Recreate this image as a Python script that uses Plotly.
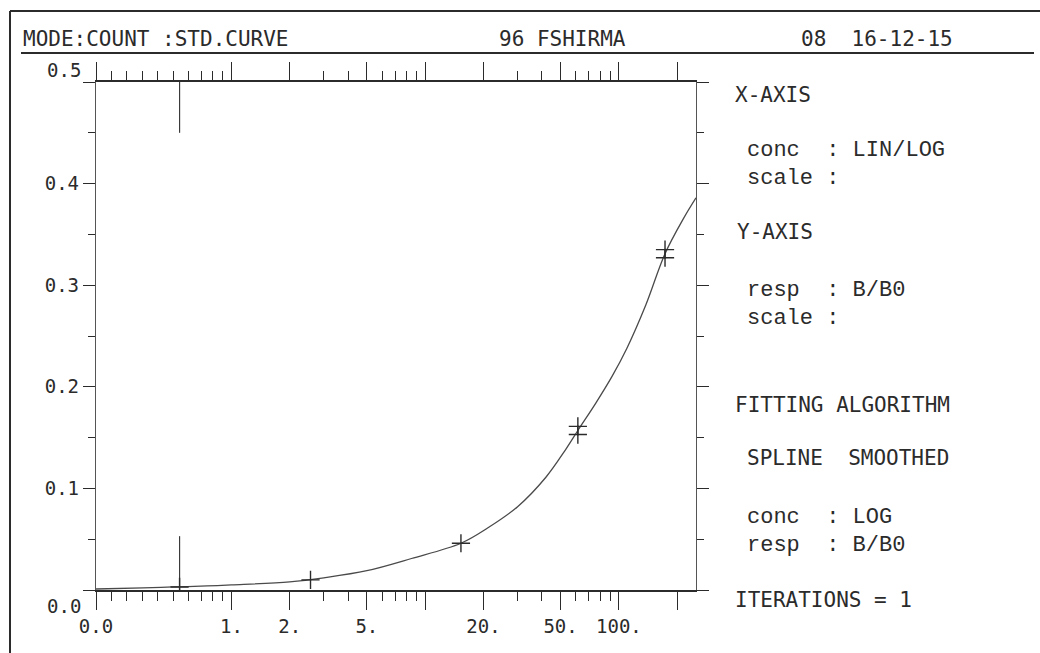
import math
import plotly.graph_objects as go

W, H = 1040, 653
L, R, T, B = 96, 344, 82, 63
PW = W - L - R
PH = H - T - B


def px(xp):
    return (xp - L) / PW


def py(yp):
    return (H - B - yp) / PH


# ---------------- data ----------------
std_conc = [0.54, 2.56, 15.3, 61.4, 61.4, 173, 173]
std_resp = [0.003, 0.010, 0.046, 0.153, 0.161, 0.327, 0.335]

curve_conc = [0.2, 0.35, 0.5, 0.75, 1, 2, 3, 5, 8.5, 15.3, 21, 30, 42, 53, 61.4,
              76, 92, 110, 138, 173, 216, 250]
curve_resp = [0.001, 0.002, 0.003, 0.004, 0.005, 0.008, 0.012, 0.019, 0.031, 0.046,
              0.061, 0.082, 0.111, 0.138, 0.157, 0.184, 0.210, 0.238, 0.281, 0.331,
              0.366, 0.386]

bar_conc = [0.54, 0.54, None, 0.54, 0.54]
bar_resp = [0.0, 0.053, None, 0.45, 0.5]

x_major = [0.2, 1, 2, 5, 10, 20, 50, 100, 200]
x_major_text = ["0.0", "1.", "2.", "5.", "", "20.", "50.", "100.", ""]
x_minor = [0.24, 0.289, 0.347, 0.416, 0.5, 0.6, 0.7, 0.8, 0.9,
           3, 4, 6, 7, 8, 9, 30, 40, 60, 70, 80, 90]
y_major = [0.0, 0.1, 0.2, 0.3, 0.4, 0.5]
y_major_text = ["", "0.1", "0.2", "0.3", "0.4", ""]
y_minor = [0.05, 0.15, 0.25, 0.35, 0.45]

header_left = "MODE:COUNT :STD.CURVE"
header_mid = "96 FSHIRMA"
header_right = "08  16-12-15"

side_lines = [
    ("X-AXIS", "caps"),
    ("conc  : LIN/LOG", "low"),
    ("scale :", "low"),
    ("Y-AXIS", "caps"),
    ("resp  : B/B0", "low"),
    ("scale :", "low"),
    ("FITTING ALGORITHM", "caps"),
    ("SPLINE  SMOOTHED", "caps"),
    ("conc  : LOG", "low"),
    ("resp  : B/B0", "low"),
    ("ITERATIONS = 1", "caps"),
]
side_pos = [(733, 95), (745, 150), (745, 178), (735, 232), (745, 290), (745, 318),
            (733, 405), (745, 458), (745, 517), (745, 545), (733, 600)]

INK = "#2b2b2b"
MONO = "DejaVu Sans Mono"
COUR = "Liberation Mono"

fig = go.Figure()

fig.add_trace(go.Scatter(
    x=curve_conc, y=curve_resp, mode="lines",
    line=dict(color="#4a4a4a", width=1.3, shape="spline", smoothing=1.0),
    hoverinfo="skip", showlegend=False))

fig.add_trace(go.Scatter(
    x=bar_conc, y=bar_resp, mode="lines",
    line=dict(color="#3a3a3a", width=1.2),
    hoverinfo="skip", showlegend=False, connectgaps=False))

fig.add_trace(go.Scatter(
    x=std_conc, y=std_resp, mode="markers",
    marker=dict(symbol="cross-thin", size=13, color=INK,
                line=dict(color=INK, width=1.4)),
    showlegend=False))

fig.update_xaxes(
    type="log", range=[math.log10(0.2), math.log10(250)],
    tickmode="array", tickvals=x_major, ticktext=x_major_text,
    ticks="outside", ticklen=18, tickwidth=1.3, tickcolor=INK,
    showline=True, linewidth=2, linecolor=INK, mirror="ticks",
    showgrid=False, zeroline=False,
    tickfont=dict(family=MONO, size=19, color=INK),
    minor=dict(tickmode="array", tickvals=x_minor, ticks="outside", ticklen=9,
               tickwidth=1.2, tickcolor=INK, showgrid=False),
)
fig.update_yaxes(
    range=[0, 0.5],
    tickmode="array", tickvals=y_major, ticktext=y_major_text,
    ticks="outside", ticklen=12, tickwidth=1.3, tickcolor=INK,
    showline=True, linewidth=1.3, linecolor="#555555", mirror="ticks",
    showgrid=False, zeroline=False,
    tickfont=dict(family=MONO, size=19, color=INK),
    minor=dict(tickmode="array", tickvals=y_minor, ticks="outside", ticklen=7,
               tickwidth=1.2, tickcolor=INK, showgrid=False),
)

annotations = []
# end labels of the y axis, printed above / below their ticks
annotations.append(dict(xref="paper", yref="y", x=0, y=y_major[-1], text="0.5",
                        xanchor="right", yanchor="middle", xshift=-13, yshift=12,
                        showarrow=False, font=dict(family=MONO, size=19, color=INK)))
annotations.append(dict(xref="paper", yref="y", x=0, y=y_major[0], text="0.0",
                        xanchor="right", yanchor="middle", xshift=-13, yshift=-16,
                        showarrow=False, font=dict(family=MONO, size=19, color=INK)))

for txt, xp in [(header_left, 21), (header_mid, 497), (header_right, 799)]:
    annotations.append(dict(xref="paper", yref="paper", x=px(xp), y=py(39), text=txt,
                            xanchor="left", yanchor="middle", showarrow=False,
                            font=dict(family=MONO, size=21, color=INK)))

for (txt, kind), (xp, yp) in zip(side_lines, side_pos):
    fam, size = (MONO, 21) if kind == "caps" else (COUR, 22)
    annotations.append(dict(xref="paper", yref="paper", x=px(xp), y=py(yp),
                            text=txt.replace(" ", "&nbsp;"),
                            xanchor="left", yanchor="middle", showarrow=False,
                            font=dict(family=fam, size=size, color=INK)))

shapes = [
    dict(type="line", xref="paper", yref="paper", x0=px(21), x1=px(1034),
         y0=py(53), y1=py(53), line=dict(color=INK, width=2)),
    dict(type="line", xref="paper", yref="paper", x0=px(10), x1=px(1040),
         y0=py(11), y1=py(11), line=dict(color=INK, width=2)),
    dict(type="line", xref="paper", yref="paper", x0=px(10), x1=px(10),
         y0=py(11), y1=py(653), line=dict(color=INK, width=2)),
]

fig.update_layout(
    width=W, height=H,
    margin=dict(l=L, r=R, t=T, b=B, pad=0),
    paper_bgcolor="white", plot_bgcolor="white",
    annotations=annotations, shapes=shapes,
    showlegend=False,
)

fig.write_html("out.html")
